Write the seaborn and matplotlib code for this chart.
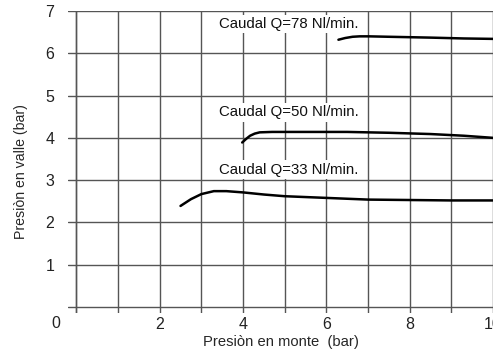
import numpy as np, pandas as pd
import matplotlib; matplotlib.use("Agg")
import matplotlib.pyplot as plt
import seaborn as sns

sns.set_style("white")
plt.rcParams["font.family"] = ["Liberation Sans", "DejaVu Sans"]

# curves (x = presión en monte, y = presión en valle)
q33_x = [2.5, 2.75, 3.0, 3.3, 3.6, 4.0, 4.5, 5.0, 6.0, 7.0, 8.0, 9.0, 10.0]
q33_y = [2.39, 2.55, 2.67, 2.74, 2.74, 2.71, 2.66, 2.62, 2.58, 2.54, 2.53, 2.52, 2.52]
q50_x = [3.98, 4.08, 4.17, 4.28, 4.4, 4.7, 5.5, 6.5, 7.5, 8.5, 9.3, 10.0]
q50_y = [3.89, 3.98, 4.05, 4.10, 4.13, 4.14, 4.14, 4.14, 4.12, 4.09, 4.05, 4.0]
q78_x = [6.29, 6.45, 6.63, 6.8, 7.03, 7.5, 8.5, 9.3, 10.0]
q78_y = [6.32, 6.36, 6.39, 6.40, 6.40, 6.39, 6.37, 6.35, 6.34]
labels = ["Caudal Q=33 Nl/min.", "Caudal Q=50 Nl/min.", "Caudal Q=78 Nl/min."]
label_y = [3.25, 4.6, 6.7]

df = pd.concat([
    pd.DataFrame({"x": q33_x, "y": q33_y, "serie": labels[0]}),
    pd.DataFrame({"x": q50_x, "y": q50_y, "serie": labels[1]}),
    pd.DataFrame({"x": q78_x, "y": q78_y, "serie": labels[2]}),
])

fig = plt.figure(figsize=(4.93, 3.54), dpi=100)
ax = fig.add_axes([0.138, 0.116, 0.862, 0.853])

sns.lineplot(data=df, x="x", y="y", units="serie", estimator=None, color="black",
             lw=1.8, sort=False, ax=ax, zorder=3)

ax.set_xlim(-0.2, 10.0); ax.set_ylim(-0.14, 7.0)
for s in ax.spines.values(): s.set_visible(False)

# grid: every integer on x, every bar on y
ax.set_xticks([2, 4, 6, 8, 10], labels=["2", "4", "6", "8", "10"])
ax.set_xticks(np.arange(0, 11, 1), minor=True)
ax.set_yticks([1, 2, 3, 4, 5, 6, 7], labels=["1", "2", "3", "4", "5", "6", "7"])
ax.grid(True, which="both", color="#555555", lw=1.0)
ax.set_axisbelow(True)
ax.axhline(0, color="#555555", lw=1.0, zorder=1)
ax.axvline(0, color="#555555", lw=1.0, zorder=1)
ax.tick_params(axis="both", which="both", length=0, labelsize=11.5, colors="#222222")
ax.tick_params(axis="y", pad=10)
ax.tick_params(axis="x", pad=3)
ax.text(-0.5, -0.38, "0", ha="center", va="center", fontsize=11.5, color="#222222")

for lab, ly in zip(labels, label_y):
    ax.text(3.42, ly, lab, ha="left", va="center", fontsize=10.8, color="#111111", zorder=4,
            bbox=dict(facecolor="white", edgecolor="none", pad=1.5))

ax.set_xlabel("Presiòn en monte  (bar)", fontsize=10.6, labelpad=2)
ax.set_ylabel("Presiòn en valle (bar)", fontsize=10.2)
ax.yaxis.set_label_coords(-0.094, 0.467)
if ax.get_legend(): ax.get_legend().remove()

fig.savefig("out.png", dpi=100)
